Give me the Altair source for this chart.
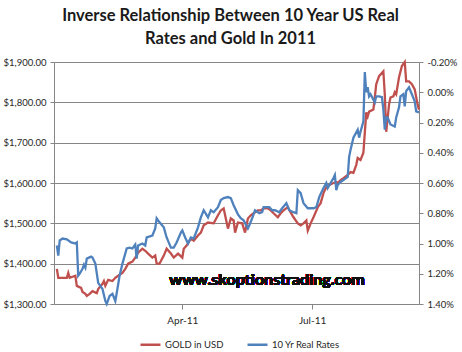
import altair as alt
import pandas as pd

# ---- data ----
gold_dates = [
    "01-03", "01-04", "01-06", "01-10", "01-11", "01-12", "01-16", "01-17", "01-20", "01-21",
    "01-23", "01-24", "01-26", "01-28", "01-31", "02-01", "02-04", "02-05", "02-06", "02-08",
    "02-11", "02-13", "02-15", "02-18", "02-20", "02-22", "02-25", "02-27", "03-01", "03-04",
    "03-06", "03-08", "03-11", "03-13", "03-14", "03-16", "03-19", "03-21", "03-24", "03-26",
    "03-29", "04-01", "04-02", "04-04", "04-07", "04-09", "04-12", "04-14", "04-16", "04-19",
    "04-23", "04-26", "04-28", "04-30", "05-03", "05-05", "05-07", "05-08", "05-10", "05-13",
    "05-15", "05-17", "05-19", "05-21", "05-24", "05-26", "05-28", "05-31", "06-02", "06-04",
    "06-07", "06-09", "06-11", "06-14", "06-16", "06-18", "06-21", "06-23", "06-25", "06-27",
    "06-28", "06-30", "07-02", "07-05", "07-07", "07-09", "07-11", "07-13", "07-16", "07-18",
    "07-19", "07-21", "07-23", "07-26", "07-28", "07-30", "08-01", "08-02", "08-04", "08-06",
    "08-08", "08-09", "08-10", "08-13", "08-14", "08-15", "08-17", "08-20", "08-21", "08-22",
    "08-24", "08-25", "08-27", "08-28", "08-29", "08-31", "09-02", "09-04", "09-05", "09-07",
    "09-09", "09-11", "09-13", "09-14",
]
gold_values = [
    1387, 1365, 1365, 1365, 1377, 1365, 1370, 1345, 1340, 1330,
    1325, 1320, 1325, 1332, 1327, 1337, 1350, 1357, 1345, 1360,
    1357, 1365, 1370, 1377, 1387, 1400, 1405, 1415, 1427, 1437,
    1432, 1425, 1415, 1420, 1400, 1400, 1420, 1437, 1425, 1415,
    1425, 1415, 1437, 1445, 1462, 1457, 1470, 1477, 1495, 1502,
    1500, 1520, 1532, 1537, 1487, 1512, 1507, 1477, 1502, 1500,
    1477, 1512, 1520, 1525, 1532, 1532, 1537, 1537, 1532, 1525,
    1515, 1525, 1532, 1540, 1527, 1515, 1500, 1495, 1500, 1507,
    1482, 1500, 1515, 1540, 1550, 1575, 1590, 1595, 1600, 1602,
    1600, 1607, 1612, 1620, 1627, 1625, 1645, 1662, 1657, 1675,
    1775, 1765, 1777, 1782, 1812, 1845, 1865, 1877, 1820, 1727,
    1795, 1812, 1815, 1825, 1820, 1862, 1890, 1900, 1852, 1852,
    1845, 1832, 1795, 1782,
]

rate_dates = [
    "01-03", "01-04", "01-05", "01-07", "01-10", "01-13", "01-16", "01-17", "01-18", "01-19",
    "01-21", "01-22", "01-23", "01-24", "01-27", "01-28", "01-30", "02-01", "02-04", "02-06",
    "02-07", "02-09", "02-11", "02-13", "02-14", "02-16", "02-18", "02-21", "02-23", "02-25",
    "02-27", "02-28", "03-01", "03-04", "03-06", "03-07", "03-11", "03-13", "03-14", "03-16",
    "03-19", "03-21", "03-24", "03-26", "03-28", "03-31", "04-01", "04-03", "04-05", "04-07",
    "04-09", "04-12", "04-14", "04-16", "04-19", "04-21", "04-23", "04-26", "04-28", "04-30",
    "05-03", "05-05", "05-07", "05-10", "05-12", "05-14", "05-17", "05-18", "05-20", "05-22",
    "05-25", "05-27", "05-28", "06-01", "06-03", "06-05", "06-08", "06-10", "06-13", "06-15",
    "06-18", "06-20", "06-21", "06-23", "06-25", "06-28", "07-02", "07-04", "07-06", "07-09",
    "07-11", "07-12", "07-14", "07-16", "07-17", "07-18", "07-19", "07-21", "07-23", "07-26",
    "07-27", "07-28", "07-30", "08-02", "08-03", "08-04", "08-06", "08-07", "08-08", "08-09",
    "08-10", "08-11", "08-14", "08-15", "08-17", "08-19", "08-20", "08-21", "08-22", "08-23",
    "08-25", "08-28", "08-29", "08-31", "09-01", "09-03", "09-04", "09-05", "09-07", "09-09",
    "09-11", "09-12", "09-14",
]
rate_values = [
    1.013, 1.08, 0.98, 0.967, 0.973, 0.993, 1.0, 0.993, 1.213, 1.2,
    1.167, 1.14, 1.16, 1.10, 1.087, 1.093, 1.133, 1.26, 1.30, 1.38,
    1.40, 1.347, 1.333, 1.38, 1.327, 1.213, 1.133, 1.033, 1.027, 1.033,
    1.007, 1.10, 1.013, 1.0, 1.013, 0.96, 0.947, 0.90, 0.833, 0.86,
    0.893, 0.96, 1.027, 1.027, 0.993, 0.927, 0.913, 0.96, 1.0, 0.96,
    0.967, 0.893, 0.827, 0.78, 0.827, 0.78, 0.793, 0.76, 0.713, 0.70,
    0.693, 0.70, 0.747, 0.807, 0.833, 0.847, 0.90, 0.88, 0.833, 0.78,
    0.80, 0.793, 0.76, 0.76, 0.78, 0.78, 0.793, 0.767, 0.733, 0.78,
    0.793, 0.80, 0.647, 0.667, 0.733, 0.767, 0.767, 0.76, 0.693, 0.633,
    0.60, 0.633, 0.60, 0.567, 0.547, 0.647, 0.613, 0.593, 0.58, 0.56,
    0.427, 0.38, 0.30, 0.247, 0.30, 0.26, 0.193, -0.133, 0.0, -0.033,
    0.027, 0.013, 0.067, 0.027, 0.027, 0.033, 0.113, 0.247, 0.167, 0.167,
    0.213, 0.227, 0.167, 0.10, 0.027, 0.013, 0.093, -0.007, -0.033, 0.013,
    0.06, 0.127, 0.133,
]

series_names = ["GOLD in USD", "10 Yr Real Rates"]
series_colors = ["#C0504D", "#4F81BD"]
gold_ticks = [1300, 1400, 1500, 1600, 1700, 1800, 1900]
rate_ticks = [-0.2, 0.0, 0.2, 0.4, 0.6, 0.8, 1.0, 1.2, 1.4]

title_lines = ["Inverse Relationship Between 10 Year US Real", "Rates and Gold In 2011"]
watermark = "www.skoptionstrading.com"

gold_df = pd.DataFrame({
    "date": ["2011-" + d + "T00:00:00" for d in gold_dates],
    "value": gold_values,
    "series": series_names[0],
})
rate_df = pd.DataFrame({
    "date": ["2011-" + d + "T00:00:00" for d in rate_dates],
    "value": rate_values,
    "series": series_names[1],
})

FONT = "Lato"
LABEL_COLOR = "#262626"
AXIS_COLOR = "#868686"

x_enc = alt.X(
    "date:T",
    scale=alt.Scale(domain=[alt.DateTime(year=2011, month=1, date=1),
                            alt.DateTime(year=2011, month=9, date=14)]),
    axis=alt.Axis(
        title=None,
        values=[alt.DateTime(year=2011, month=4, date=1),
                alt.DateTime(year=2011, month=7, date=1)],
        format="%b-%y",
        labelFont=FONT, labelFontSize=10, labelColor=LABEL_COLOR, labelPadding=6,
        domainColor=AXIS_COLOR, tickColor=AXIS_COLOR, tickSize=5, grid=False,
    ),
)

color_enc = alt.Color(
    "series:N",
    scale=alt.Scale(domain=series_names, range=series_colors),
    legend=alt.Legend(
        title=None, orient="none", direction="horizontal",
        legendX=85, legendY=271,
        symbolType="stroke", symbolSize=400, symbolStrokeWidth=2.5,
        labelFont=FONT, labelFontSize=9.5, labelColor=LABEL_COLOR,
        columnPadding=18, labelOffset=3,
    ),
)

gold_line = alt.Chart(gold_df).mark_line(strokeWidth=2.3).encode(
    x=x_enc,
    y=alt.Y(
        "value:Q",
        scale=alt.Scale(domain=[1300, 1900], nice=False, zero=False),
        axis=alt.Axis(
            title=None, values=gold_ticks, format="$,.2f",
            labelFont=FONT, labelFontSize=9.5, labelColor=LABEL_COLOR, labelPadding=4,
            domainColor=AXIS_COLOR, tickColor=AXIS_COLOR, tickSize=4,
            grid=True, gridColor=AXIS_COLOR, gridWidth=1,
        ),
    ),
    color=color_enc,
)

watermark_text = alt.Chart(gold_df).mark_text(
    text=watermark, font=FONT, fontSize=16, fontWeight="bold", color="#111111",
    align="center", baseline="middle",
).encode(x=alt.value(213), y=alt.value(218))

rate_line = alt.Chart(rate_df).mark_line(strokeWidth=2.3).encode(
    x=x_enc,
    y=alt.Y(
        "value:Q",
        scale=alt.Scale(domain=[-0.2, 1.4], reverse=True, nice=False, zero=False),
        axis=alt.Axis(
            title=None, orient="right", values=rate_ticks,
            labelExpr="(datum.value < -0.0001 ? '-' : '') + format(abs(datum.value), '.2f') + '%'",
            labelFont=FONT, labelFontSize=9.5, labelColor=LABEL_COLOR, labelPadding=4,
            domainColor=AXIS_COLOR, tickColor=AXIS_COLOR, tickSize=4, grid=False,
        ),
    ),
    color=color_enc,
)

chart = alt.layer(
    alt.layer(gold_line, watermark_text),
    rate_line,
).resolve_scale(y="independent").properties(
    width=365,
    height=242,
    autosize=alt.AutoSizeParams(type="none"),
    padding={"left": 54, "top": 62, "right": 43, "bottom": 48},
    title=alt.TitleParams(
        text=title_lines, font=FONT, fontSize=16.5, fontWeight="bold", color="#1a1a1a",
        anchor="middle", lineHeight=23, offset=10, dx=-6,
    ),
).configure_view(stroke=None).configure(background="white")

chart.save("out.html", embed_options={"renderer": "svg", "actions": False})
